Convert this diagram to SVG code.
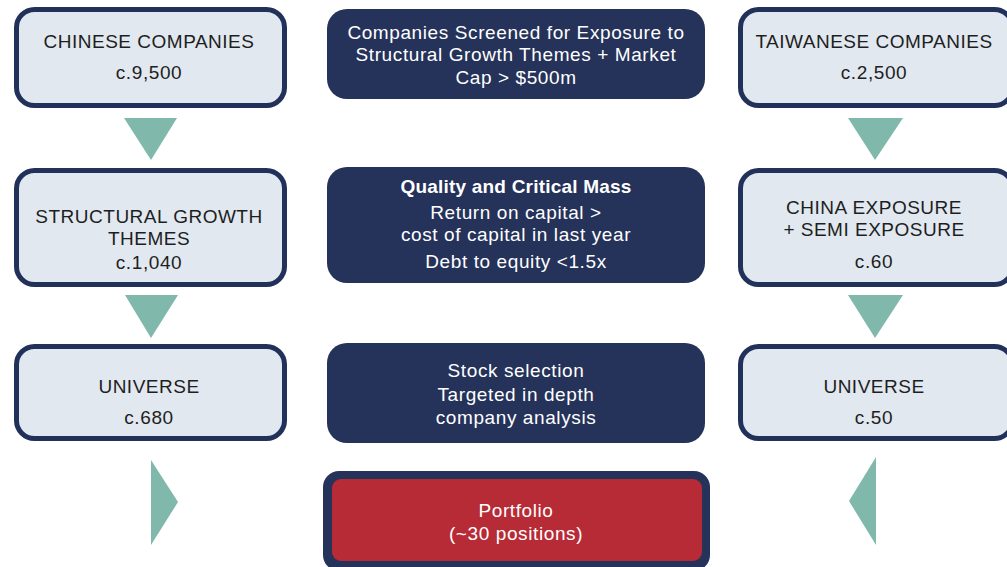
<svg xmlns="http://www.w3.org/2000/svg" width="1007" height="567" viewBox="0 0 1007 567">
<style>
.lb{fill:#e1e8f0;stroke:#22315a;stroke-width:5}
.db{fill:#25325a}
.tri{fill:#80b9ac}
text{font-family:"Liberation Sans",Arial,sans-serif;text-anchor:middle;font-size:19px;letter-spacing:0.6px}
.lt{fill:#1e1e1e}
.cap{letter-spacing:0.5px}
.wt{fill:#ffffff}
.bt{fill:#ffffff;font-weight:bold;letter-spacing:0.2px}
</style>
<rect width="1007" height="567" fill="#ffffff"/>
<g id="chinese-companies">
<rect class="lb" x="16.5" y="9.5" width="268" height="96" rx="18"/>
<text class="lt cap" x="149" y="48">CHINESE COMPANIES</text>
<text class="lt" x="149" y="79">c.9,500</text>
</g>
<g id="screen">
<rect class="db" x="327" y="9" width="378" height="90" rx="20"/>
<text class="wt" x="516" y="39">Companies Screened for Exposure to</text>
<text class="wt" x="516" y="61">Structural Growth Themes + Market</text>
<text class="wt" x="516" y="84">Cap &gt; $500m</text>
</g>
<g id="taiwanese-companies">
<rect class="lb" x="740.5" y="9.5" width="272" height="96" rx="18"/>
<text class="lt cap" x="874" y="48">TAIWANESE COMPANIES</text>
<text class="lt" x="874" y="79">c.2,500</text>
</g>
<g id="structural-growth">
<rect class="lb" x="16.5" y="170.5" width="268" height="114" rx="18"/>
<text class="lt cap" x="149" y="223">STRUCTURAL GROWTH</text>
<text class="lt cap" x="149" y="245">THEMES</text>
<text class="lt" x="149" y="269">c.1,040</text>
</g>
<g id="quality">
<rect class="db" x="327" y="167" width="378" height="116" rx="20"/>
<text class="bt" x="516" y="193">Quality and Critical Mass</text>
<text class="wt" x="516" y="219">Return on capital &gt;</text>
<text class="wt" x="516" y="241">cost of capital in last year</text>
<text class="wt" x="516" y="268">Debt to equity &lt;1.5x</text>
</g>
<g id="china-semi-exposure">
<rect class="lb" x="740.5" y="170.5" width="272" height="114" rx="18"/>
<text class="lt cap" x="874" y="214">CHINA EXPOSURE</text>
<text class="lt cap" x="874" y="236">+ SEMI EXPOSURE</text>
<text class="lt" x="874" y="268">c.60</text>
</g>
<g id="universe-left">
<rect class="lb" x="16.5" y="346.5" width="268" height="92" rx="18"/>
<text class="lt cap" x="149" y="393">UNIVERSE</text>
<text class="lt" x="149" y="424">c.680</text>
</g>
<g id="stock-selection">
<rect class="db" x="327" y="343" width="378" height="100" rx="20"/>
<text class="wt" x="516" y="377">Stock selection</text>
<text class="wt" x="516" y="401">Targeted in depth</text>
<text class="wt" x="516" y="424">company analysis</text>
</g>
<g id="universe-right">
<rect class="lb" x="740.5" y="346.5" width="272" height="92" rx="18"/>
<text class="lt cap" x="874" y="393">UNIVERSE</text>
<text class="lt" x="874" y="424">c.50</text>
</g>
<g id="portfolio">
<rect x="323" y="471" width="387" height="100" rx="16" fill="#25325a"/>
<rect x="332" y="479" width="370" height="82" rx="9" fill="#b72b36"/>
<text class="wt" x="516" y="517">Portfolio</text>
<text class="wt" x="516" y="540">(~30 positions)</text>
</g>
<g id="connectors">
<polygon class="tri" points="124,118 177,118 151,160"/>
<polygon class="tri" points="125,295 178,295 151,338"/>
<polygon class="tri" points="151,460 178,502 151,545"/>
<polygon class="tri" points="848,118 903,118 875,160"/>
<polygon class="tri" points="848,295 903,295 875,338"/>
<polygon class="tri" points="876,457 849,501 876,545"/>
</g>
</svg>
